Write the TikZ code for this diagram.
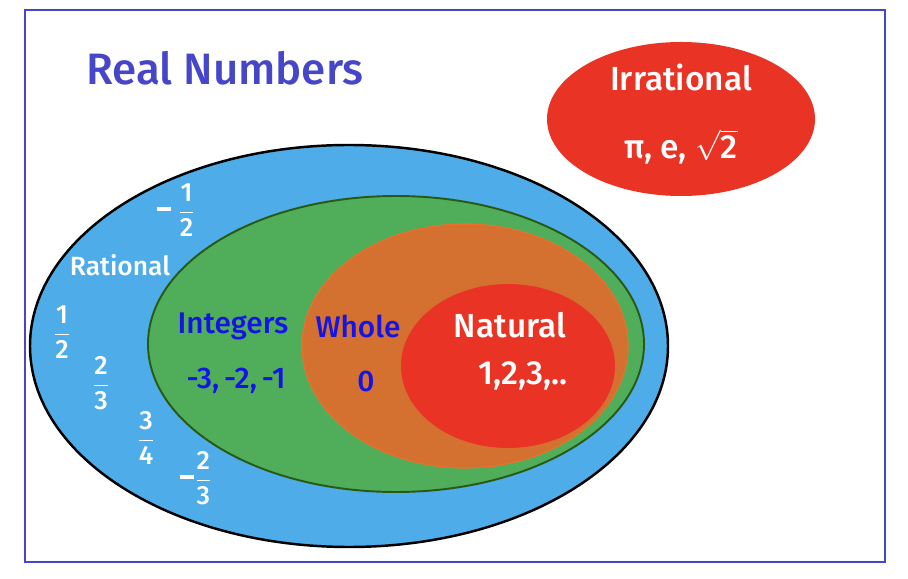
\documentclass[tikz,border=0pt]{standalone}
\usepackage{amsmath}
\usepackage{fontspec}
\setmainfont{Fira Sans}[BoldFont={Fira Sans Medium}]
\usepackage{xcolor}
\usepackage{tikz}
\definecolor{frameblue}{RGB}{70,70,200}
\definecolor{setblue}{RGB}{78,172,232}
\definecolor{setgreen}{RGB}{80,174,91}
\definecolor{darkgreen}{RGB}{40,90,20}
\definecolor{setorange}{RGB}{212,113,48}
\definecolor{rimorange}{RGB}{240,110,40}
\definecolor{setred}{RGB}{233,52,37}
\definecolor{textblue}{RGB}{20,20,230}
\tikzset{
lbl/.style = {text=white, font=\fontsize{15}{17}\selectfont\bfseries, inner sep=1pt},
big/.style = {text=white, font=\fontsize{19}{21}\selectfont\bfseries, inner sep=1pt},
dark/.style = {text=textblue, font=\fontsize{17}{19}\selectfont\bfseries, inner sep=1pt},
frac/.style = {text=white, font=\fontsize{15}{17}\selectfont\bfseries, inner sep=0pt}
}
\newcommand{\fr}[2]{$\genfrac{}{}{0.9pt}{0}{\text{#1}}{\text{#2}}$}
\newcommand{\minusbar}{\rule[0.3em]{0.55em}{2pt}}
\begin{document}
\begin{tikzpicture}[x=0.02cm, y=0.02cm]
\useasboundingbox (0,0) rectangle (908,578);

\draw[frameblue, line width=1.6pt] (25,568) rectangle (885,16);

% nested sets
\draw[fill=setblue, line width=1.4pt] (349,232) ellipse (319 and 201);
\draw[fill=setgreen, draw=darkgreen, line width=1.1pt] (396,234) ellipse (248 and 148);
\draw[fill=setorange, draw=rimorange, line width=0.6pt] (465,232) ellipse (163 and 122);
\fill[setred] (508,212) ellipse (107 and 82);
\fill[setred] (681,459) ellipse (134 and 77);

\node[text=frameblue, font=\fontsize{25}{29}\selectfont\bfseries] (title) at (225,510) {Real Numbers};

\node[big] (irr) at (681,501) {Irrational};
\node[big] (irrex) at (681,431) {π, e, $\sqrt{\text{2}}$};

\node[lbl] (rat) at (120,313) {Rational};
\node[frac] (fa) at (176,368) {\minusbar\ \fr{1}{2}};
\node[frac] (fb) at (62,246) {\fr{1}{2}};
\node[frac] (fc) at (101,195) {\fr{2}{3}};
\node[frac] (fd) at (146,140) {\fr{3}{4}};
\node[frac] (fe) at (196,100) {\minusbar\fr{2}{3}};

\node[dark] (int) at (233,252) {Integers};
\node[dark] (intex) at (236,197) {-3,\,-2,\,-1};
\node[dark] (whole) at (358,252) {Whole};
\node[dark] (wholex) at (366,197) {0};
\node[big] (nat) at (510,253) {Natural};
\node[big] (natex) at (523,202) {1,2,3,..};
\end{tikzpicture}
\end{document}
